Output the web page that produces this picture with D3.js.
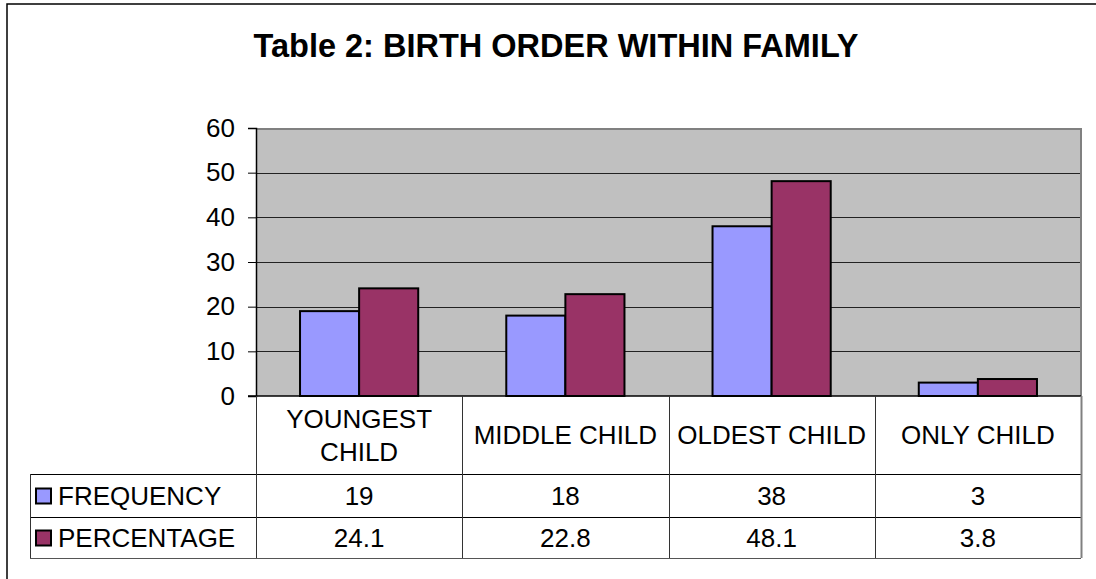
<!DOCTYPE html>
<html><head><meta charset="utf-8">
<script src="https://cdn.jsdelivr.net/npm/d3@7"></script>
<style>body{margin:0;background:#fff}svg{display:block;font-family:"Liberation Sans",Arial,sans-serif}</style>
</head><body><svg id="c" width="1096" height="579"></svg>
<script>
const categories = [["YOUNGEST","CHILD"],["MIDDLE CHILD"],["OLDEST CHILD"],["ONLY CHILD"]];
const seriesNames = ["FREQUENCY","PERCENTAGE"];
const frequency = [19,18,38,3];
const percentage = [24.1,22.8,48.1,3.8];
const yTicks = [0,10,20,30,40,50,60];
const colors = ["#9999FF","#993366"];
const title = "Table 2: BIRTH ORDER WITHIN FAMILY";

const svg = d3.select("#c");
const L=256,R=1081,T=128,B=396;
const rows=[474,517,558];
const tableLeft=30;
const FS=26;

// outer frame
svg.append("rect").attr("x",7).attr("y",4).attr("width",1200).attr("height",700)
  .attr("fill","#fff").attr("stroke","#000").attr("stroke-width",1.5);

svg.append("text").attr("x",556).attr("y",57).attr("text-anchor","middle")
  .attr("font-size",32.5).attr("font-weight","bold").text(title);

const y = d3.scaleLinear().domain([0,60]).range([B,T]);
const x0 = d3.scaleBand().domain(d3.range(categories.length)).range([L,R]).paddingInner(0).paddingOuter(0);
const x1 = d3.scaleBand().domain([0,1]).range([0,x0.bandwidth()]).paddingInner(0).paddingOuter(0.745);

svg.append("rect").attr("x",L).attr("y",T).attr("width",R-L).attr("height",B-T).attr("fill","#C0C0C0");
// gridlines
svg.append("g").selectAll("line").data(yTicks.filter(d=>d>0&&d<60)).join("line")
  .attr("x1",L).attr("x2",R).attr("y1",d=>Math.round(y(d))+0.5).attr("y2",d=>Math.round(y(d))+0.5)
  .attr("stroke","#222").attr("stroke-width",1);
// plot border top/right
svg.append("path").attr("d",`M${L},${T+1}H${R}V${B}`).attr("fill","none").attr("stroke","#808080").attr("stroke-width",2);

// bars
const data = [frequency, percentage];
const g = svg.append("g");
categories.forEach((c,i)=>{
  data.forEach((s,j)=>{
    g.append("rect").attr("x",x0(i)+x1(j)).attr("y",y(s[i])).attr("width",x1.bandwidth())
      .attr("height",B-y(s[i])).attr("fill",colors[j]).attr("stroke","#000").attr("stroke-width",2);
  });
});

// y axis
const ax = svg.append("g").attr("transform",`translate(${L},0)`)
  .call(d3.axisLeft(y).tickValues(yTicks).tickSize(8).tickPadding(13));
ax.select(".domain").attr("stroke","#000").attr("stroke-width",1.5);
ax.selectAll(".tick line").attr("stroke","#000");
ax.selectAll("text").attr("font-size",FS).attr("font-family","Liberation Sans, Arial, sans-serif").attr("fill","#000");
// zero line
svg.append("line").attr("x1",L-8).attr("x2",R).attr("y1",B).attr("y2",B).attr("stroke","#000").attr("stroke-width",1.5);

// table
const tg = svg.append("g");
rows.forEach((ry,k)=>{
  tg.append("line").attr("x1",tableLeft).attr("x2",R).attr("y1",ry+0.5).attr("y2",ry+0.5)
    .attr("stroke",k===2?"#555":"#000").attr("stroke-width",1);
});
const colEdges = d3.range(categories.length+1).map(i=>i<categories.length?x0(i):R);
colEdges.forEach((cx,i)=>{
  tg.append("line").attr("x1",Math.round(cx)+0.5).attr("x2",Math.round(cx)+0.5).attr("y1",B).attr("y2",rows[2])
    .attr("stroke",i===colEdges.length-1?"#808080":"#333").attr("stroke-width",i===colEdges.length-1?2:1);
});
tg.append("line").attr("x1",tableLeft+0.5).attr("x2",tableLeft+0.5).attr("y1",rows[0]).attr("y2",rows[2]).attr("stroke","#333");

// category labels
categories.forEach((c,i)=>{
  const cx = x0(i)+x0.bandwidth()/2;
  const midY = (B+rows[0])/2;
  const lh = 33;
  c.forEach((t,k)=>{
    tg.append("text").attr("x",cx).attr("y",midY+(k-(c.length-1)/2)*lh+9)
      .attr("text-anchor","middle").attr("font-size",FS).text(t);
  });
});
// values rows
data.forEach((s,j)=>{
  const cy=(rows[j]+rows[j+1])/2;
  s.forEach((v,i)=>{
    tg.append("text").attr("x",x0(i)+x0.bandwidth()/2).attr("y",cy+9.5).attr("text-anchor","middle")
      .attr("font-size",FS).text(v);
  });
  tg.append("rect").attr("x",36).attr("y",cy-7).attr("width",15).attr("height",15)
    .attr("fill",colors[j]).attr("stroke","#000").attr("stroke-width",2);
  tg.append("text").attr("x",58).attr("y",cy+9.5).attr("font-size",FS).text(seriesNames[j]);
});
</script></body></html>
